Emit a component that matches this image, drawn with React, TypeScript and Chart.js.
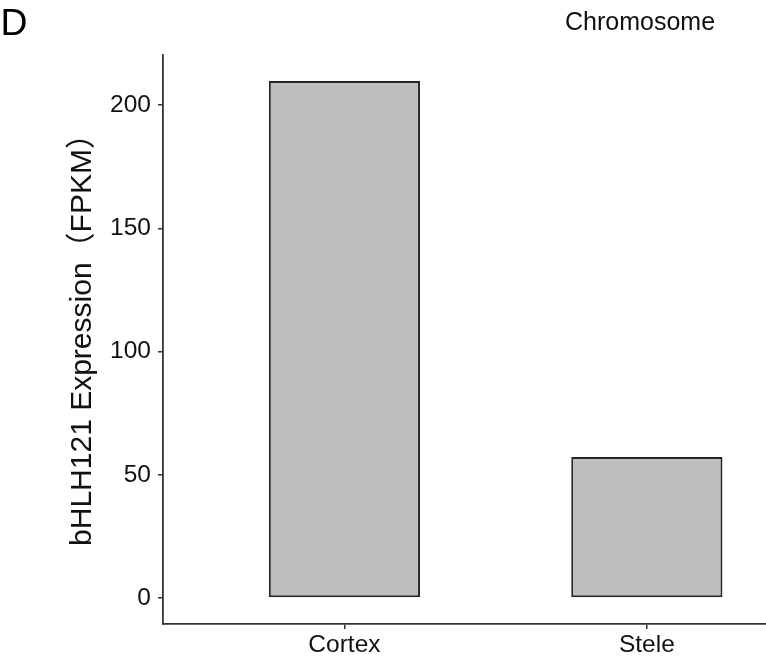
import React, { useEffect, useRef } from "react";
import { Chart, registerables } from "chart.js";

Chart.register(...registerables);

const categories = ["Cortex", "Stele"];
const expression = [209.8, 57.2];
const yTicks = [0, 50, 100, 150, 200];
const yTitle = "bHLH121 Expression（FPKM）";
const panelLabel = "D";
const topLabel = "Chromosome";

const FONT = "'Liberation Sans', Arial, 'Noto Sans CJK SC', sans-serif";

const yTitlePlugin = {
  id: "yTitlePlugin",
  afterDraw(chart: any) {
    const { ctx, chartArea } = chart;
    ctx.save();
    ctx.translate(83, (chartArea.top + chartArea.bottom) / 2 - 7);
    ctx.rotate(-Math.PI / 2);
    ctx.textAlign = "center";
    ctx.textBaseline = "middle";
    ctx.fillStyle = "#111111";
    ctx.font = `30px ${FONT}`;
    ctx.fillText(yTitle, 0, 0);
    ctx.restore();
  },
};

export default function App() {
  const canvasRef = useRef<HTMLCanvasElement | null>(null);

  useEffect(() => {
    if (!canvasRef.current) return;
    const chart = new Chart(canvasRef.current, {
      type: "bar",
      data: {
        datasets: [
          {
            data: categories.map((c, i) => ({ x: i, y: expression[i] })),
            backgroundColor: "#bebebe",
            borderColor: "#262626",
            borderWidth: 2,
            borderSkipped: false,
            barPercentage: 0.5,
            categoryPercentage: 1.0,
          },
        ],
      },
      plugins: [yTitlePlugin],
      options: {
        animation: false,
        responsive: true,
        maintainAspectRatio: false,
        layout: { padding: { top: 55, left: 0, right: 0, bottom: 0 } },
        plugins: { legend: { display: false }, tooltip: { enabled: false } },
        scales: {
          x: {
            type: "linear",
            min: -0.6,
            max: 1.394,
            offset: false,
            afterFit: (s: any) => {
              s.height = 40;
            },
            afterBuildTicks: (s: any) => {
              s.ticks = categories.map((_, i) => ({ value: i }));
            },
            grid: {
              offset: false,
              drawOnChartArea: false,
              drawTicks: true,
              tickLength: 5,
              color: "#333333",
              lineWidth: 1.5,
            },
            border: { display: true, color: "#333333", width: 1.8 },
            ticks: {
              autoSkip: false,
              maxRotation: 0,
              padding: 2,
              color: "#111111",
              font: { family: FONT, size: 24.5 },
              callback: (v: any) => categories[Number(v)] ?? "",
            },
          },
          y: {
            type: "linear",
            min: -10.5,
            max: 220.3,
            afterFit: (s: any) => {
              s.width = 163;
            },
            afterBuildTicks: (s: any) => {
              s.ticks = yTicks.map((v) => ({ value: v }));
            },
            grid: {
              drawOnChartArea: false,
              drawTicks: true,
              tickLength: 5,
              color: "#333333",
              lineWidth: 1.5,
            },
            border: { display: true, color: "#333333", width: 1.8 },
            ticks: {
              padding: 7,
              color: "#111111",
              font: { family: FONT, size: 24.5 },
              callback: (v: any) => String(v),
            },
            title: { display: false },
          },
        },
      },
    } as any);
    return () => chart.destroy();
  }, []);

  return (
    <div
      style={{
        position: "fixed",
        left: 0,
        top: 0,
        width: 766,
        height: 664,
        background: "#ffffff",
        overflow: "hidden",
      }}
    >
      <canvas ref={canvasRef} />
      <div
        style={{
          position: "absolute",
          left: 0.5,
          top: 3.7,
          fontFamily: FONT,
          fontSize: 37.3,
          lineHeight: 1,
          color: "#000",
        }}
      >
        {panelLabel}
      </div>
      <div
        style={{
          position: "absolute",
          left: 565,
          top: 8.5,
          fontFamily: FONT,
          fontSize: 25,
          lineHeight: 1,
          color: "#111",
          whiteSpace: "nowrap",
        }}
      >
        {topLabel}
      </div>
    </div>
  );
}
